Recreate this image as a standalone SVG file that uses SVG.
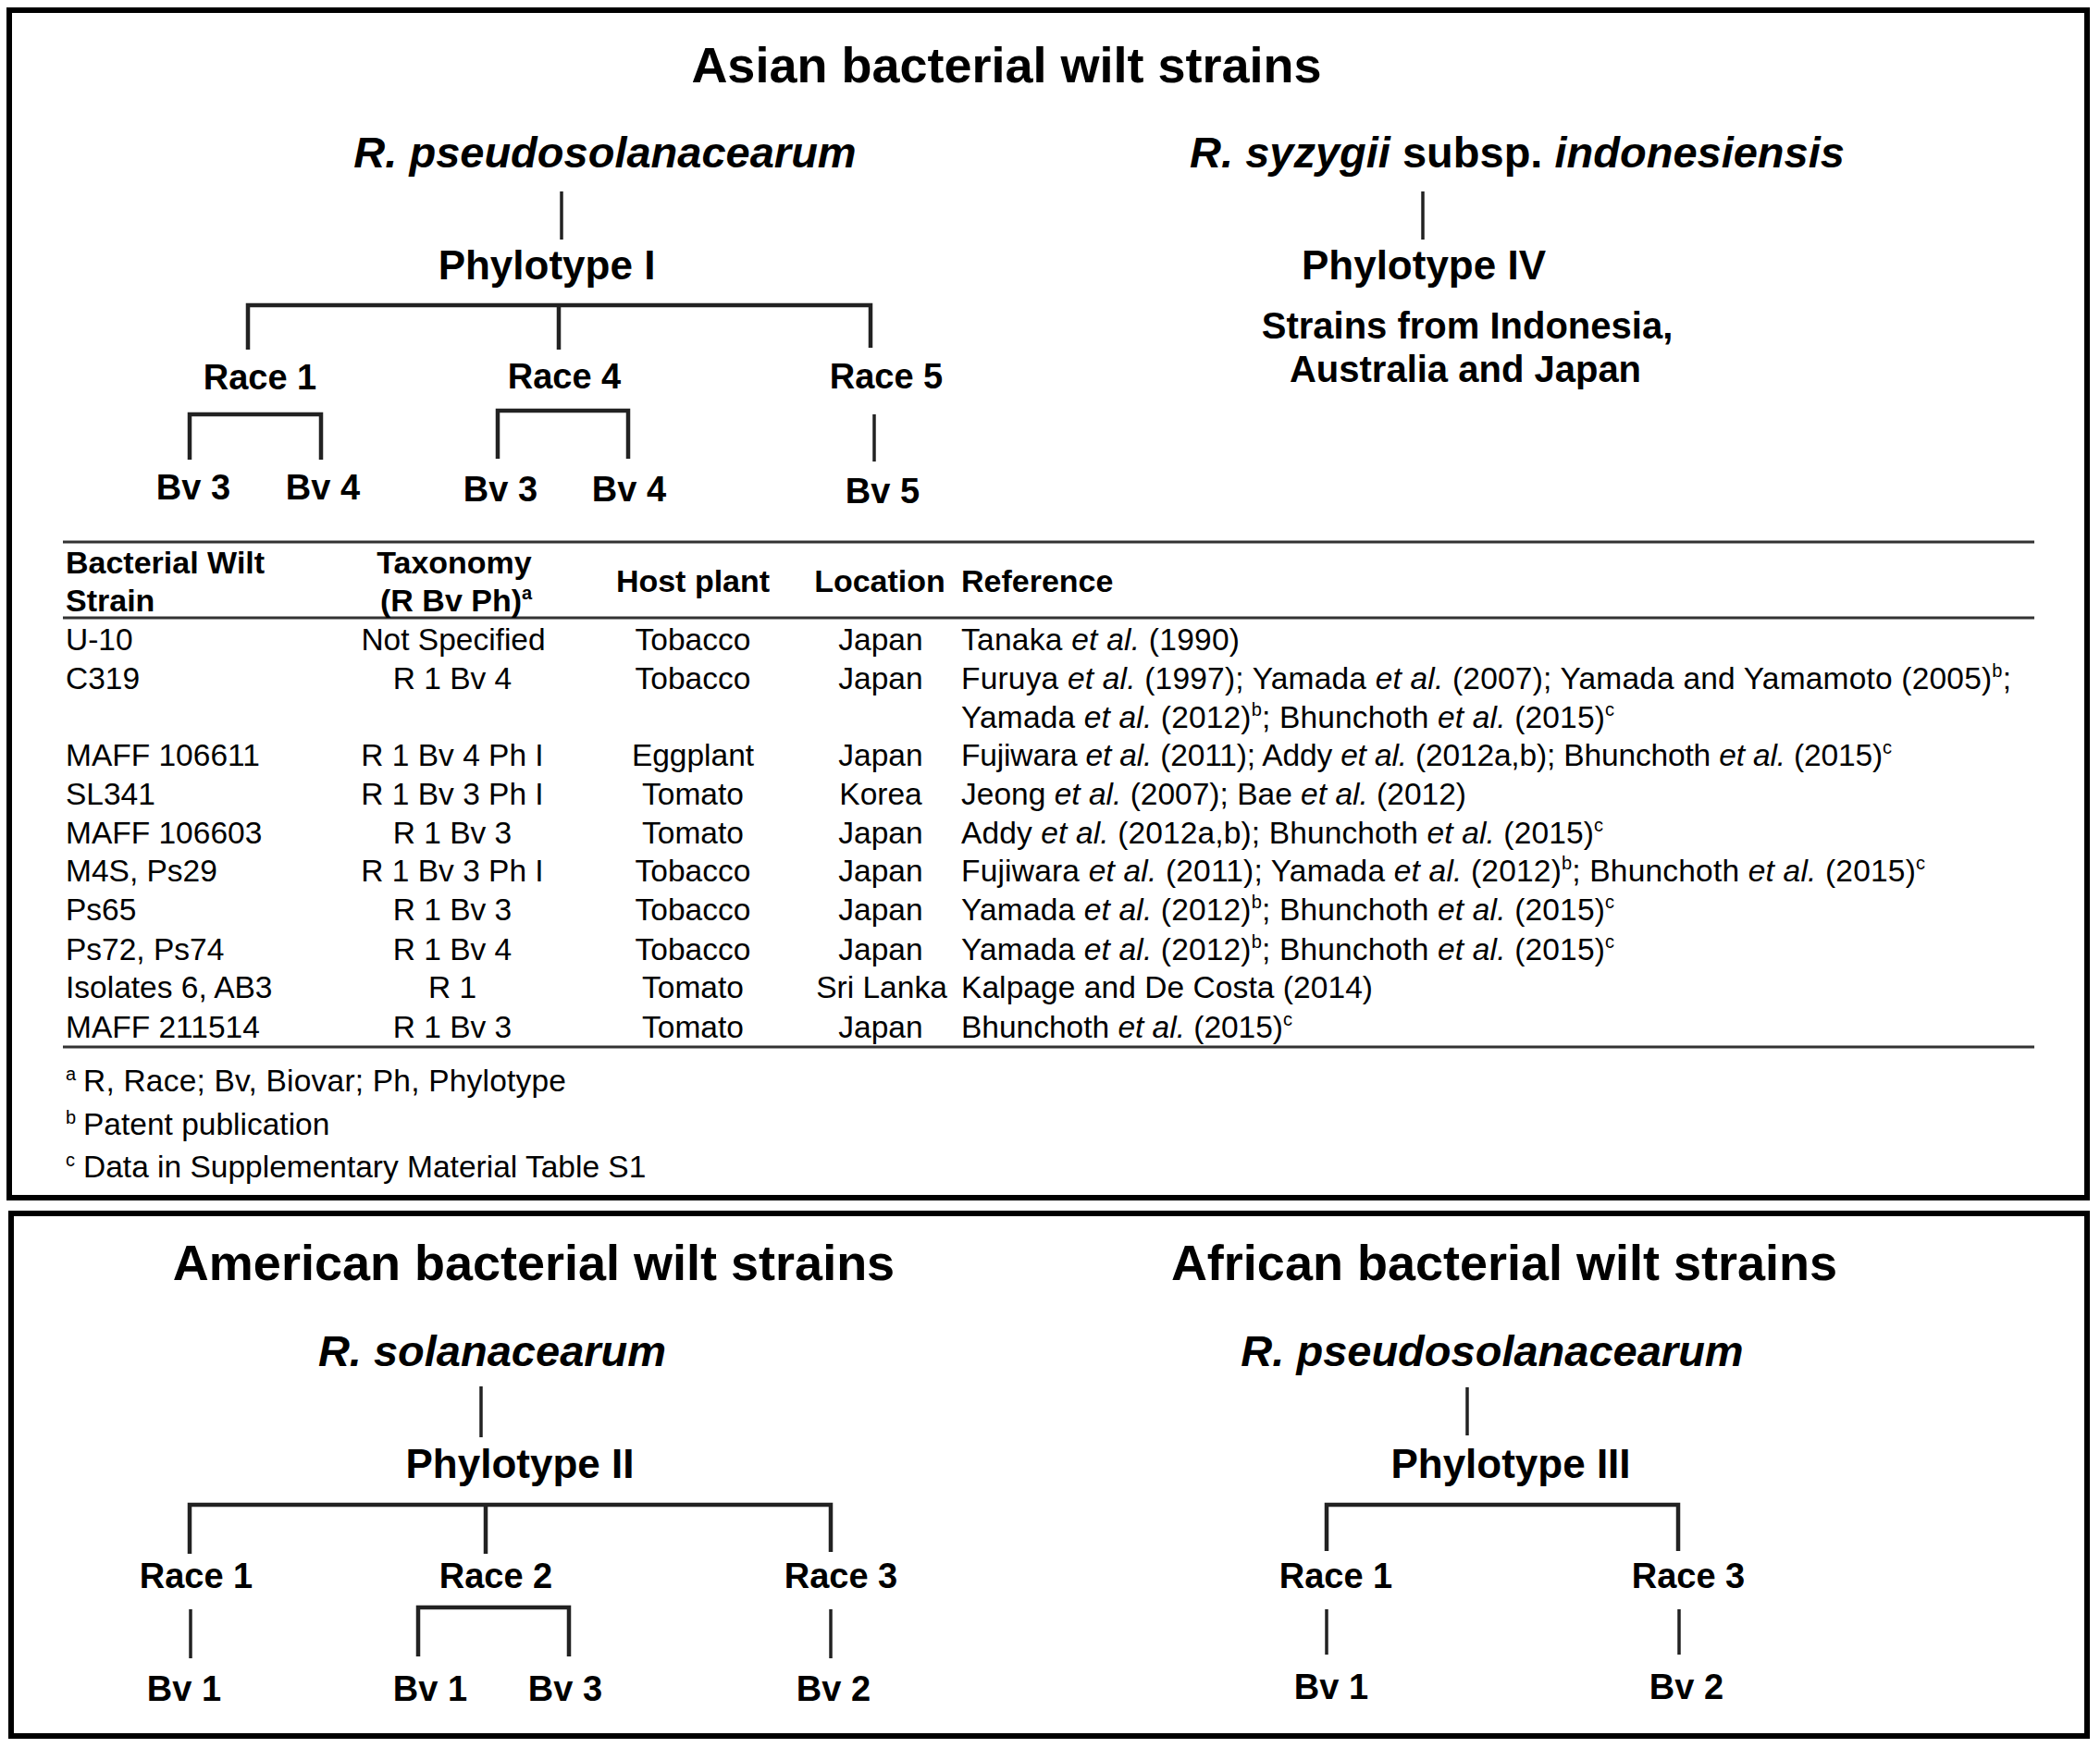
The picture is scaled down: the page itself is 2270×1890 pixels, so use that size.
<svg xmlns="http://www.w3.org/2000/svg" width="2270" height="1890" viewBox="0 0 2270 1890">
<style>
text{font-family:"Liberation Sans",Arial,sans-serif;fill:#000}
.title{font-size:54px;font-weight:bold;text-anchor:middle}
.sp{font-size:47px;font-weight:bold;text-anchor:middle}
.it{font-style:italic}
.ph{font-size:44px;font-weight:bold;text-anchor:middle}
.lbl{font-size:38px;font-weight:bold;text-anchor:middle}
.note{font-size:40px;font-weight:bold;text-anchor:middle}
.th{font-size:34px;font-weight:bold}
.td{font-size:33.5px}
.c{text-anchor:middle}
.sup{font-size:20px}
.box{fill:none;stroke:#000;stroke-width:6}
.rule{stroke:#333;stroke-width:3}
.br{fill:none;stroke:#222;stroke-width:4.5;stroke-linecap:butt}
.st{fill:none;stroke:#222;stroke-width:3.5}
</style>
<rect width="2270" height="1890" fill="#fff"/>
<rect class="box" x="10" y="11" width="2246" height="1284"/>
<rect class="box" x="12" y="1312" width="2244" height="565"/>

<g id="connectors">
<path class="st" d="M607 207V259"/>
<path class="br" d="M268 378V330H941V376M604 330V378"/>
<path class="br" d="M205 497V448H347V497"/>
<path class="br" d="M538 496V444H679V496"/>
<path class="st" d="M945 448V499"/>
<path class="st" d="M1538 207V259"/>
<path class="st" d="M520 1499V1554"/>
<path class="br" d="M205 1680V1627H898V1678M525 1627V1680"/>
<path class="st" d="M206 1740V1793"/>
<path class="br" d="M452 1791V1738H615V1791"/>
<path class="st" d="M898 1740V1793"/>
<path class="st" d="M1586 1500V1552"/>
<path class="br" d="M1434 1677V1627H1814V1677"/>
<path class="st" d="M1434 1740V1789"/>
<path class="st" d="M1815 1740V1789"/>
</g>

<g id="asian-title"><text class="title" x="1088" y="89">Asian bacterial wilt strains</text></g>
<g id="asian-rps"><text class="sp it" x="654" y="181">R. pseudosolanacearum</text></g>
<g id="asian-rsyz"><text class="sp" x="1640" y="181"><tspan class="it">R. syzygii</tspan> subsp. <tspan class="it">indonesiensis</tspan></text></g>
<g id="phylo-1"><text class="ph" x="591" y="302">Phylotype I</text></g>
<g id="phylo-4"><text class="ph" x="1539" y="302">Phylotype IV</text></g>
<g id="phylo-4-note"><text class="note" x="1586" y="366">Strains from Indonesia,</text><text class="note" x="1584" y="413">Australia and Japan</text></g>
<g id="a-race1"><text class="lbl" x="281" y="421">Race 1</text></g>
<g id="a-race4"><text class="lbl" x="610" y="420">Race 4</text></g>
<g id="a-race5"><text class="lbl" x="958" y="420">Race 5</text></g>
<g id="a-r1-bv3"><text class="lbl" x="209" y="540">Bv 3</text></g>
<g id="a-r1-bv4"><text class="lbl" x="349" y="540">Bv 4</text></g>
<g id="a-r4-bv3"><text class="lbl" x="541" y="542">Bv 3</text></g>
<g id="a-r4-bv4"><text class="lbl" x="680" y="542">Bv 4</text></g>
<g id="a-r5-bv5"><text class="lbl" x="954" y="544">Bv 5</text></g>

<g id="table">
<line class="rule" x1="68" y1="586" x2="2199" y2="586"/>
<line class="rule" x1="68" y1="668" x2="2199" y2="668"/>
<line class="rule" x1="68" y1="1132" x2="2199" y2="1132"/>
<text class="th" x="71" y="620">Bacterial Wilt</text>
<text class="th" x="71" y="661">Strain</text>
<text class="th c" x="491" y="620">Taxonomy</text>
<text class="th" x="411" y="661">(R Bv Ph)<tspan class="sup" dy="-13">a</tspan></text>
<text class="th c" x="749" y="640">Host plant</text>
<text class="th c" x="951" y="640">Location</text>
<text class="th" x="1039" y="640">Reference</text>

<g class="td">
<text class="td" x="71" y="703">U-10</text>
<text class="td" x="71" y="745">C319</text>
<text class="td" x="71" y="828">MAFF 106611</text>
<text class="td" x="71" y="870">SL341</text>
<text class="td" x="71" y="912">MAFF 106603</text>
<text class="td" x="71" y="953">M4S, Ps29</text>
<text class="td" x="71" y="995">Ps65</text>
<text class="td" x="71" y="1038">Ps72, Ps74</text>
<text class="td" x="71" y="1079">Isolates 6, AB3</text>
<text class="td" x="71" y="1122">MAFF 211514</text>

<text class="td c" x="490" y="703">Not Specified</text>
<text class="td c" x="489" y="745">R 1 Bv 4</text>
<text class="td c" x="489" y="828">R 1 Bv 4 Ph I</text>
<text class="td c" x="489" y="870">R 1 Bv 3 Ph I</text>
<text class="td c" x="489" y="912">R 1 Bv 3</text>
<text class="td c" x="489" y="953">R 1 Bv 3 Ph I</text>
<text class="td c" x="489" y="995">R 1 Bv 3</text>
<text class="td c" x="489" y="1038">R 1 Bv 4</text>
<text class="td c" x="489" y="1079">R 1</text>
<text class="td c" x="489" y="1122">R 1 Bv 3</text>

<text class="td c" x="749" y="703">Tobacco</text>
<text class="td c" x="749" y="745">Tobacco</text>
<text class="td c" x="749" y="828">Eggplant</text>
<text class="td c" x="749" y="870">Tomato</text>
<text class="td c" x="749" y="912">Tomato</text>
<text class="td c" x="749" y="953">Tobacco</text>
<text class="td c" x="749" y="995">Tobacco</text>
<text class="td c" x="749" y="1038">Tobacco</text>
<text class="td c" x="749" y="1079">Tomato</text>
<text class="td c" x="749" y="1122">Tomato</text>

<text class="td c" x="952" y="703">Japan</text>
<text class="td c" x="952" y="745">Japan</text>
<text class="td c" x="952" y="828">Japan</text>
<text class="td c" x="952" y="870">Korea</text>
<text class="td c" x="952" y="912">Japan</text>
<text class="td c" x="952" y="953">Japan</text>
<text class="td c" x="952" y="995">Japan</text>
<text class="td c" x="952" y="1038">Japan</text>
<text class="td c" x="953" y="1079">Sri Lanka</text>
<text class="td c" x="952" y="1122">Japan</text>

<text class="td" x="1039" y="703" textLength="301" lengthAdjust="spacing">Tanaka <tspan class="it">et al.</tspan> (1990)</text>
<text class="td" x="1039" y="745" textLength="1135" lengthAdjust="spacing">Furuya <tspan class="it">et al.</tspan> (1997); Yamada <tspan class="it">et al.</tspan> (2007); Yamada and Yamamoto (2005)<tspan class="sup" dy="-13">b</tspan><tspan dy="13">;</tspan></text>
<text class="td" x="1039" y="787" textLength="706" lengthAdjust="spacing">Yamada <tspan class="it">et al.</tspan> (2012)<tspan class="sup" dy="-13">b</tspan><tspan dy="13">; Bhunchoth </tspan><tspan class="it">et al.</tspan> (2015)<tspan class="sup" dy="-13">c</tspan></text>
<text class="td" x="1039" y="828" textLength="1006" lengthAdjust="spacing">Fujiwara <tspan class="it">et al.</tspan> (2011); Addy <tspan class="it">et al.</tspan> (2012a,b); Bhunchoth <tspan class="it">et al.</tspan> (2015)<tspan class="sup" dy="-13">c</tspan></text>
<text class="td" x="1039" y="870" textLength="546" lengthAdjust="spacing">Jeong <tspan class="it">et al.</tspan> (2007); Bae <tspan class="it">et al.</tspan> (2012)</text>
<text class="td" x="1039" y="912" textLength="694" lengthAdjust="spacing">Addy <tspan class="it">et al.</tspan> (2012a,b); Bhunchoth <tspan class="it">et al.</tspan> (2015)<tspan class="sup" dy="-13">c</tspan></text>
<text class="td" x="1039" y="953" textLength="1042" lengthAdjust="spacing">Fujiwara <tspan class="it">et al.</tspan> (2011); Yamada <tspan class="it">et al.</tspan> (2012)<tspan class="sup" dy="-13">b</tspan><tspan dy="13">; Bhunchoth </tspan><tspan class="it">et al.</tspan> (2015)<tspan class="sup" dy="-13">c</tspan></text>
<text class="td" x="1039" y="995" textLength="706" lengthAdjust="spacing">Yamada <tspan class="it">et al.</tspan> (2012)<tspan class="sup" dy="-13">b</tspan><tspan dy="13">; Bhunchoth </tspan><tspan class="it">et al.</tspan> (2015)<tspan class="sup" dy="-13">c</tspan></text>
<text class="td" x="1039" y="1038" textLength="706" lengthAdjust="spacing">Yamada <tspan class="it">et al.</tspan> (2012)<tspan class="sup" dy="-13">b</tspan><tspan dy="13">; Bhunchoth </tspan><tspan class="it">et al.</tspan> (2015)<tspan class="sup" dy="-13">c</tspan></text>
<text class="td" x="1039" y="1079" textLength="445" lengthAdjust="spacing">Kalpage and De Costa (2014)</text>
<text class="td" x="1039" y="1122" textLength="358" lengthAdjust="spacing">Bhunchoth <tspan class="it">et al.</tspan> (2015)<tspan class="sup" dy="-13">c</tspan></text>
</g>
</g>

<g id="footnotes">
<text class="sup" x="71" y="1168">a</text><text class="td" x="90" y="1180" textLength="522" lengthAdjust="spacing">R, Race; Bv, Biovar; Ph, Phylotype</text>
<text class="sup" x="71" y="1215">b</text><text class="td" x="90" y="1227">Patent publication</text>
<text class="sup" x="71" y="1261">c</text><text class="td" x="90" y="1273">Data in Supplementary Material Table S1</text>
</g>

<g id="american-title"><text class="title" x="577" y="1384">American bacterial wilt strains</text></g>
<g id="african-title"><text class="title" x="1626" y="1384">African bacterial wilt strains</text></g>
<g id="am-rsol"><text class="sp it" x="532" y="1477">R. solanacearum</text></g>
<g id="af-rps"><text class="sp it" x="1613" y="1477">R. pseudosolanacearum</text></g>
<g id="phylo-2"><text class="ph" x="562" y="1598">Phylotype II</text></g>
<g id="phylo-3"><text class="ph" x="1633" y="1598">Phylotype III</text></g>
<g id="am-race1"><text class="lbl" x="212" y="1717">Race 1</text></g>
<g id="am-race2"><text class="lbl" x="536" y="1717">Race 2</text></g>
<g id="am-race3"><text class="lbl" x="909" y="1717">Race 3</text></g>
<g id="af-race1"><text class="lbl" x="1444" y="1717">Race 1</text></g>
<g id="af-race3"><text class="lbl" x="1825" y="1717">Race 3</text></g>
<g id="am-r1-bv1"><text class="lbl" x="199" y="1839">Bv 1</text></g>
<g id="am-r2-bv1"><text class="lbl" x="465" y="1839">Bv 1</text></g>
<g id="am-r2-bv3"><text class="lbl" x="611" y="1839">Bv 3</text></g>
<g id="am-r3-bv2"><text class="lbl" x="901" y="1839">Bv 2</text></g>
<g id="af-r1-bv1"><text class="lbl" x="1439" y="1837">Bv 1</text></g>
<g id="af-r3-bv2"><text class="lbl" x="1823" y="1837">Bv 2</text></g>
</svg>
